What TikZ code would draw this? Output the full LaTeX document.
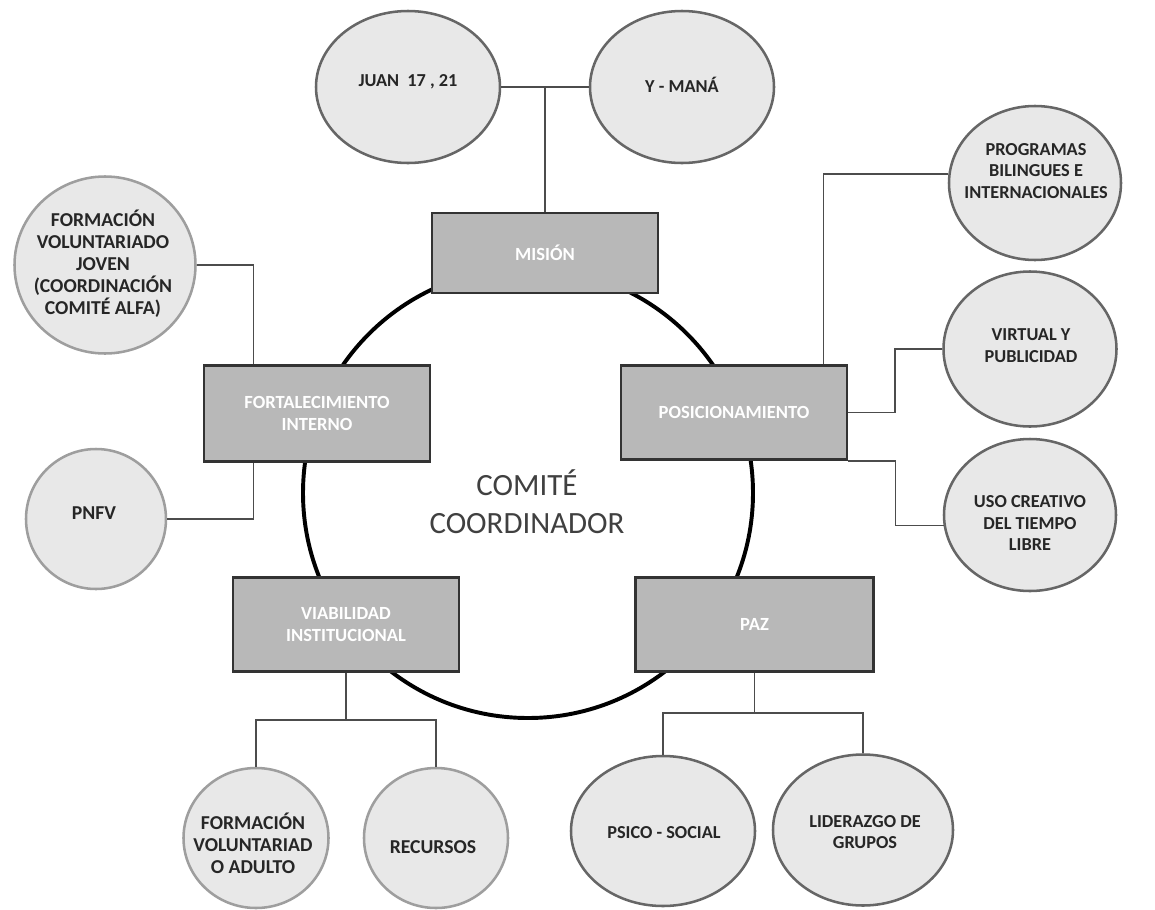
\documentclass[tikz,border=0pt]{standalone}
\usepackage{fontspec}
\setmainfont{Carlito}
\usetikzlibrary{shapes.geometric}
\definecolor{cajagris}{HTML}{B8B8B8}
\definecolor{burbujagris}{HTML}{E8E8E8}

\begin{document}
\begin{tikzpicture}[
  x=0.25mm, y=-0.25mm,
  caja/.style={draw=black!80, fill=cajagris, line width=2pt, minimum width=56.5mm, minimum height=23.5mm, align=center, text=white, font=\bfseries\fontsize{13.2}{15.5}\selectfont},
  burbuja/.style={ellipse, draw=black!60, fill=burbujagris, line width=1.8pt, inner sep=0pt},
  claro/.style={draw=black!38},
  rotulo/.style={align=center, text=black!85, font=\bfseries\fontsize{13}{15.5}\selectfont},
  grande/.style={font=\bfseries\fontsize{14}{15.6}\selectfont},
  linea/.style={draw=black!70, line width=1.2pt}
]
\useasboundingbox (0,0) rectangle (1155,910);

\node[draw, circle, line width=2.8pt, minimum size=112.5mm, inner sep=0pt] (anillo) at (528,493) {};
\node[align=center, text=black!75, font=\fontsize{22}{27}\selectfont] (comite) at (527,502) {COMITÉ\\COORDINADOR};

% ejes
\node[caja, minimum height=20mm] (mision) at (545,253) {MISIÓN};
\node[caja, minimum height=24mm] (fort) at (317,413.5) {FORTALECIMIENTO\\INTERNO};
\node[caja] (pos) at (734,412.5) {POSICIONAMIENTO};
\node[caja] (viab) at (346,624.5) {VIABILIDAD\\INSTITUCIONAL};
\node[caja, minimum width=59.5mm] (paz) at (754.5,624.5) {PAZ};

% burbujas
\node[burbuja, minimum width=46mm, minimum height=38mm] (juan) at (408,87) {};
\node[burbuja, minimum width=46mm, minimum height=38mm] (ymana) at (682,87) {};
\node[burbuja, claro, minimum width=45.25mm, minimum height=44.25mm] (fvj) at (105,265) {};
\node[burbuja, claro, minimum width=35mm, minimum height=35mm] (pnfv) at (96,519) {};
\node[burbuja, minimum width=43mm, minimum height=38.5mm] (prog) at (1035,183) {};
\node[burbuja, minimum width=43.25mm, minimum height=38.75mm] (virt) at (1030,349) {};
\node[burbuja, minimum width=43mm, minimum height=38mm] (uso) at (1030,515) {};
\node[burbuja, claro, minimum width=36.25mm, minimum height=35mm] (fva) at (256,838) {};
\node[burbuja, claro, minimum width=36mm, minimum height=35mm] (rec) at (436,838) {};
\node[burbuja, minimum width=46mm, minimum height=37.5mm] (psico) at (663,831) {};
\node[burbuja, minimum width=45mm, minimum height=37.75mm] (lider) at (863,830) {};

\node[rotulo] (juan-t) at (408,82) {JUAN\ \ 17 , 21};
\node[rotulo] (ymana-t) at (682,85) {Y - MANÁ};
\node[rotulo, grande] (fvj-t) at (103,264) {FORMACIÓN\\VOLUNTARIADO\\JOVEN\\(COORDINACIÓN\\COMITÉ ALFA)};
\node[rotulo, grande] (pnfv-t) at (94,513) {PNFV};
\node[rotulo] (prog-t) at (1036,171) {PROGRAMAS\\BILINGUES E\\INTERNACIONALES};
\node[rotulo] (virt-t) at (1031,346) {VIRTUAL Y\\PUBLICIDAD};
\node[rotulo] (uso-t) at (1030,523) {USO CREATIVO\\DEL TIEMPO\\LIBRE};
\node[rotulo, grande] (fva-t) at (253,843) {FORMACIÓN\\VOLUNTARIAD\\O ADULTO};
\node[rotulo, grande] (rec-t) at (433,847) {RECURSOS};
\node[rotulo] (psico-t) at (664,833) {PSICO - SOCIAL};
\node[rotulo] (lider-t) at (865,832) {LIDERAZGO DE\\GRUPOS};

% conectores
\draw[linea] (juan.east) -- (ymana.west);
\draw[linea] (mision.north) -- (mision.north |- juan.east);
\draw[linea] (fvj.east) -| ([xshift=12.75mm]fort.north west);
\draw[linea] (pnfv.east) -| ([xshift=12.75mm]fort.south west);
\draw[linea] (prog.174) -| ([xshift=-6.25mm]pos.north east);
\draw[linea] (virt.west) -- ++(-47,0) |- (pos.east);
\draw[linea] (pos.south east) -- ++(47,0) |- (uso.187);
\draw[linea] (viab.south) -- ++(0,48);
\draw[linea] (fva.north) -- ++(0,-47) -| (rec.north);
\draw[linea] (paz.south) -- ++(0,41);
\draw[linea] (psico.north) -- ++(0,-42) -| (lider.north);
\end{tikzpicture}
\end{document}
